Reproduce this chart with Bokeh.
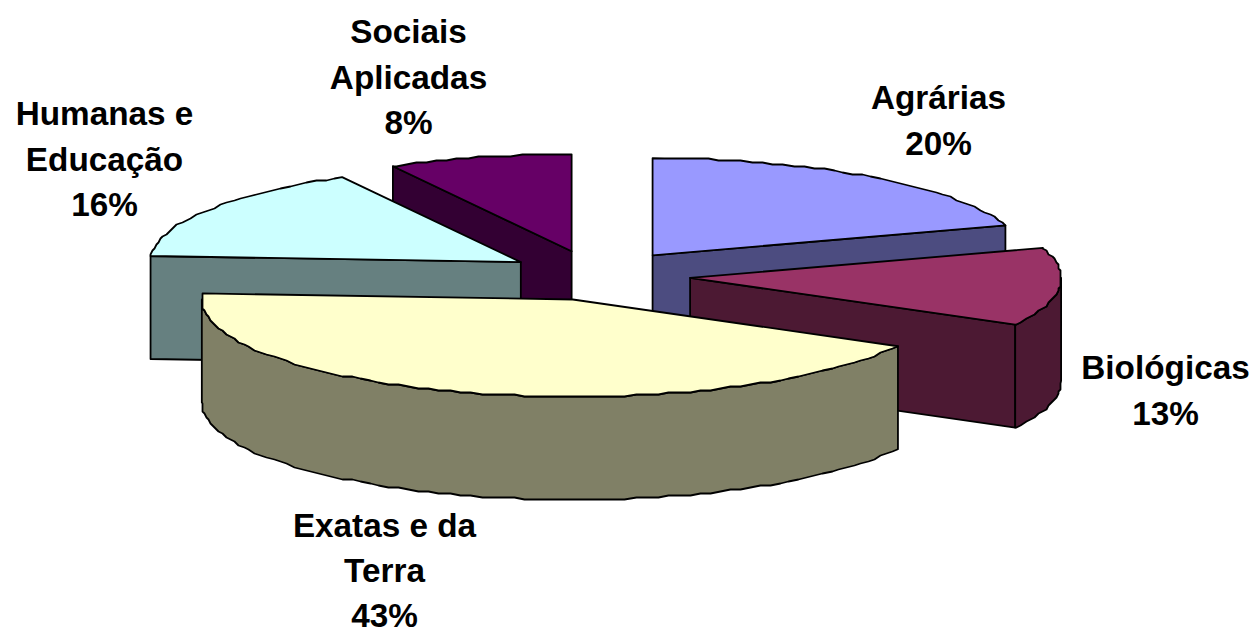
import numpy as np
from bokeh.plotting import figure
from bokeh.models import Range1d
from bokeh.core.properties import value
from bokeh.embed import file_html
from bokeh.resources import INLINE

# data
categories = ["Agrárias", "Biológicas", "Exatas e da Terra", "Humanas e Educação", "Sociais Aplicadas"]
shares = [20, 13, 43, 16, 8]
label_lines = [["Agrárias", "20%"], ["Biológicas", "13%"], ["Exatas e da", "Terra", "43%"],
               ["Humanas e", "Educação", "16%"], ["Sociais", "Aplicadas", "8%"]]

# style / layout
top_colors = ["#9999FF", "#993366", "#FFFFCC", "#CCFFFF", "#660066"]
wall_colors = ["#4C4C80", "#4C1933", "#808066", "#668080", "#330033"]
label_x = [938, 1165, 384, 104, 408]
label_y = [97, 367, 525, 113, 31]
label_step = [45.5, 45.5, 45, 45.5, 45.5]
apex_nudge_x = [0, 0, 0, 0, -4]
CX, CY = 598, 275
A, B = 371, 97
DEPTH = 103
EX_A, EX_B = 92, 25
STEP = 2.0
GRID = 0.03
draw_order = [4, 3, 0, 1, 2]

W, H = 1255, 635
p = figure(width=W, height=H, x_range=Range1d(0, W), y_range=Range1d(H, 0),
           output_backend="svg", toolbar_location=None, min_border=0, outline_line_color=None)
p.xaxis.visible = False
p.yaxis.visible = False
p.grid.visible = False

edges = np.cumsum([0] + shares) / sum(shares) * 2 * np.pi
angle_grid = np.arange(0, 2 * np.pi, GRID)


def arc(ax, ay, t0, t1, dz=0.0):
    inner = angle_grid[(angle_grid > t0 + 1e-3) & (angle_grid < t1 - 1e-3)]
    t = np.r_[t0, inner, t1]
    x = ax + A * np.sin(t)
    y = ay - B * np.cos(t)
    # the source chart's curves are snapped to a coarse pixel grid
    x[1:-1] = np.round(x[1:-1] / STEP) * STEP
    y[1:-1] = np.round(y[1:-1] / STEP) * STEP
    return x, y + dz


def draw(xs, ys, color):
    p.patch(list(xs), list(ys), fill_color=color, line_color="black", line_width=1.8, line_join="round")


for i in draw_order:
    t0, t1 = edges[i], edges[i + 1]
    mid = (t0 + t1) / 2
    ax = CX + EX_A * np.sin(mid) + apex_nudge_x[i]
    ay = CY - EX_B * np.cos(mid)
    # radial faces visible to the viewer
    for t, visible in ((t0, np.sin(t0) < -1e-6), (t1, np.sin(t1) > 1e-6)):
        if visible:
            ex, ey = ax + A * np.sin(t), ay - B * np.cos(t)
            draw([ax, ex, ex, ax], [ay, ey, ey + DEPTH, ay + DEPTH], wall_colors[i])
    # outer wall, front half only
    w0, w1 = max(t0, np.pi / 2), min(t1, 3 * np.pi / 2)
    if w1 > w0:
        x0, y0 = arc(ax, ay, w0, w1)
        x1, y1 = arc(ax, ay, w0, w1, DEPTH)
        draw(np.r_[x0, x1[::-1]], np.r_[y0, y1[::-1]], wall_colors[i])
    # top face
    xa, ya = arc(ax, ay, t0, t1)
    draw(np.r_[ax, xa], np.r_[ay, ya], top_colors[i])

for lines, lx, ly, ls in zip(label_lines, label_x, label_y, label_step):
    p.text([lx] * len(lines), [ly + k * ls for k in range(len(lines))], text=lines,
           text_font=value("Liberation Sans"), text_font_style="bold", text_font_size="33.3px",
           text_color="black", text_align="center", text_baseline="middle")

open("out.html", "w").write(file_html(p, INLINE))
